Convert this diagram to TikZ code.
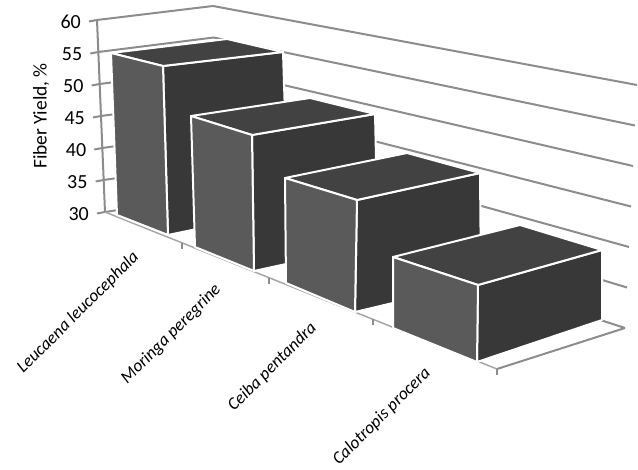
\documentclass[tikz,border=0pt]{standalone}
\usepackage{fontspec}
\setmainfont{Carlito}
\usetikzlibrary{calc}

\definecolor{gridgray}{HTML}{8C8C8C}
\definecolor{floorgray}{HTML}{A6A6A6}
\definecolor{frontgray}{HTML}{5A5A5A}
\definecolor{sidegray}{HTML}{383838}
\definecolor{topgray}{HTML}{424242}

\tikzset{
  gridline/.style={draw=gridgray, line width=2pt},
  floorline/.style={draw=floorgray, line width=1.5pt},
  barface/.style={draw=white, line width=2pt, line join=round},
  barfront/.style={barface, fill=frontgray},
  barside/.style={barface, fill=sidegray},
  bartop/.style={barface, fill=topgray},
  ticklabel/.style={anchor=east, inner sep=0pt, font=\fontsize{20}{22}\selectfont},
  catlabel/.style={anchor=east, rotate=45, inner sep=0pt, font=\fontsize{17.5}{20}\selectfont\itshape},
}

% front TL, front TR, front BR, front BL, top back-left, top back-right, side bottom back-right
\newcommand{\drawbar}[7]{%
  \draw[barside] #2 -- #6 -- #7 -- #3 -- cycle;
  \draw[bartop] #1 -- #5 -- #6 -- #2 -- cycle;
  \draw[barfront] #1 -- #2 -- #3 -- #4 -- cycle;
}

\begin{document}
\begin{tikzpicture}[x=1pt, y=-1pt]
  \useasboundingbox (0,0) rectangle (638,470);

  % walls and value axis
  \foreach \v in {30,35,...,60}{
    \coordinate (f\v) at ({97+8*(60-\v)/30},{20+6.4*(60-\v)});
    \coordinate (b\v) at ({213+3.7*(60-\v)/30},{6+6.3*(60-\v)});
    \coordinate (r\v) at ({637-0.4*(60-\v)},{85+8.1*(60-\v)});
    \draw[gridline] (f\v) -- (b\v) -- (r\v);
    \draw[gridline] (f\v) -- ++(-8,1.5);
    \node[ticklabel] (val\v) at ($(f\v)+(-16,2)$) {\v};
  }
  \draw[gridline] (f60) -- (f30);
  \node[rotate=90, font=\fontsize{19.5}{22}\selectfont] (ytitle) at (41,116) {Fiber Yield, \%};

  % floor
  \coordinate (fr) at (497,369);
  \draw[floorline] (f30) -- (fr);
  \draw[gridline] (fr) -- (r30);
  \coordinate (t0) at (f30);
  \coordinate (t1) at ($(f30)!0.196!(fr)$);
  \coordinate (t2) at ($(f30)!0.418!(fr)$);
  \coordinate (t3) at ($(f30)!0.684!(fr)$);
  \coordinate (t4) at (fr);
  \foreach \i in {1,...,4}{
    \draw[gridline] (t\i) -- ++(0,6);
  }

  % bars
  \drawbar{(111,53)}{(163,66)}{(168,235)}{(117,215)}{(227,39)}{(283,52)}{(288,210)}
  \drawbar{(191,116)}{(252,135)}{(254,271)}{(195,247)}{(310,98)}{(375,114)}{(378,244)}
  \drawbar{(285,178)}{(357,200)}{(355,312)}{(286,283)}{(407,153)}{(480,173)}{(481,282)}
  \drawbar{(393,257)}{(478,285)}{(477,362)}{(393,328)}{(520,225)}{(602,250)}{(602,320)}

  % category labels
  \node[catlabel] (cat1) at ($(t0)!0.5!(t1)+(-7,27)$) {Leucaena leucocephala};
  \node[catlabel] (cat2) at ($(t1)!0.5!(t2)+(-7,27)$) {Moringa peregrine};
  \node[catlabel] (cat3) at ($(t2)!0.5!(t3)+(-7,27)$) {Ceiba pentandra};
  \node[catlabel] (cat4) at ($(t3)!0.5!(t4)+(-7,26)$) {Calotropis procera};
\end{tikzpicture}
\end{document}
